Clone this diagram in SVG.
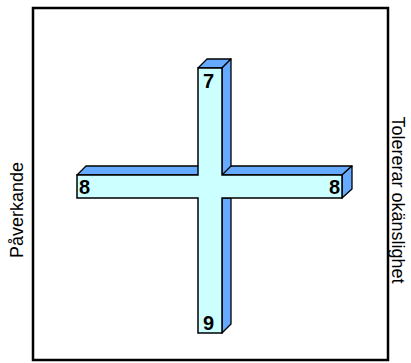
<svg xmlns="http://www.w3.org/2000/svg" width="411" height="363" viewBox="0 0 411 363">
<style>
.side{fill:#66aaff;stroke:#000;stroke-width:1.3;stroke-linejoin:round}
.front{fill:#ccffff;stroke:#000;stroke-width:1.5;stroke-linejoin:miter}
.num{font-family:"Liberation Sans",Arial,sans-serif;font-weight:bold;font-size:20px;fill:#000}
.lbl{font-family:"Liberation Sans",Arial,sans-serif;font-size:18px;fill:#000}
</style>
<rect id="frame" x="33" y="8" width="355" height="352" fill="#fff" stroke="#000" stroke-width="2.5"/>
<g id="cross">
<polygon class="side" points="77,175 86,166 352,166 342,175"/>
<polygon class="side" points="342,175 352,166 352,189 342,198"/>
<polygon class="side" points="198,68 207,59 231,59 222,68"/>
<polygon class="side" points="222,68 231,59 231,166 222,175"/>
<polygon class="side" points="222,198 231,198 231,324 222,333"/>
<polygon class="front" points="198,68 222,68 222,175 342,175 342,198 222,198 222,333 198,333 198,198 77,198 77,175 198,175"/>
</g>
<g id="labels">
<text class="num" x="203" y="88">7</text>
<text class="num" x="79" y="194">8</text>
<text class="num" x="340" y="194" text-anchor="end">8</text>
<text class="num" x="203" y="330">9</text>
</g>
<g id="connectors"/>
<text class="lbl" transform="translate(23,210) rotate(-90)" text-anchor="middle">Påverkande</text>
<text class="lbl" transform="translate(392,200) rotate(90)" text-anchor="middle">Tolererar okänslighet</text>
</svg>
